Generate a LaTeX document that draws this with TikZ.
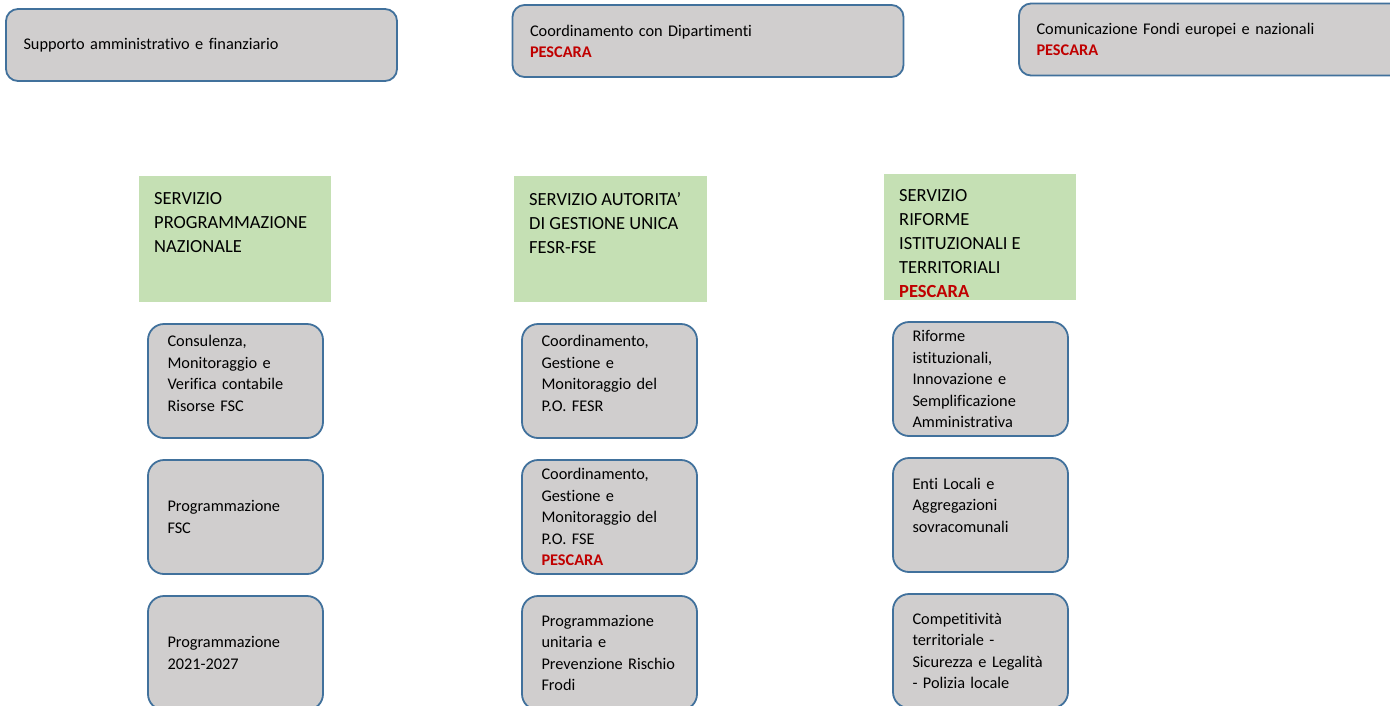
\documentclass[tikz,border=0pt]{standalone}
\usepackage{fontspec}
\setmainfont[RawFeature=-liga]{Carlito}
\definecolor{boxgray}{HTML}{D0CECE}
\definecolor{boxblue}{HTML}{41719C}
\definecolor{servgreen}{HTML}{C5E0B4}
\definecolor{pescred}{HTML}{C00000}
\newcommand{\pesc}{\textcolor{pescred}{\bfseries PESCARA}}
\tikzset{
  topbox/.style={draw=boxblue,line width=1.8pt,fill=boxgray,rounded corners=12pt,
    minimum width=391pt,minimum height=72pt,text width=356pt,inner xsep=17.5pt,
    align=left,font=\fontsize{16.3}{21}\selectfont},
  unitbox/.style={draw=boxblue,line width=1.8pt,fill=boxgray,rounded corners=16pt,
    minimum width=175pt,minimum height=114pt,text width=136pt,inner xsep=19.5pt,
    align=left,font=\fontsize{16.3}{21.5}\selectfont},
  servbox/.style={fill=servgreen,minimum width=192pt,minimum height=126pt,inner sep=0pt},
  servtext/.style={anchor=north west,align=left,inner sep=0pt,font=\fontsize{18.5}{24}\selectfont}
}
\begin{document}
\begin{tikzpicture}[x=1pt,y=-1pt]
  \useasboundingbox (0,0) rectangle (1390,705);
  \clip (0,0) rectangle (1390,705);
  \fill[white] (0,0) rectangle (1390,705);

  \node[topbox] (supp) at (201.5,45) {Supporto amministrativo e finanziario};
  \node[topbox] (coord) at (708,41) {Coordinamento con Dipartimenti\\\pesc};
  \node[topbox] (comun) at (1214.5,39.5) {Comunicazione Fondi europei e nazionali\\\pesc};

  \node[servbox] (snaz) at (235,239) {};
  \node[servbox,minimum width=193pt] (sadg) at (610.5,239) {};
  \node[servbox] (srif) at (980,237) {};
  \node[servtext] (snazt) at (154,192.5) {SERVIZIO\\PROGRAMMAZIONE\\NAZIONALE};
  \node[servtext] (sadgt) at (529,192.5) {SERVIZIO AUTORITA’\\DI GESTIONE UNICA\\FESR-FSE};
  \node[servtext] (srift) at (899,189.5) {SERVIZIO\\RIFORME\\ISTITUZIONALI E\\TERRITORIALI\\\pesc};

  \node[unitbox] (cons) at (235.5,381) {Consulenza,\\Monitoraggio e\\Verifica contabile\\Risorse FSC\\[-6.5pt]\mbox{}};
  \node[unitbox] (pfsc) at (235.5,517) {Programmazione\\FSC};
  \node[unitbox] (p2127) at (235.5,653) {Programmazione\\2021-2027};

  \node[unitbox] (fesr) at (609.5,381) {Coordinamento,\\Gestione e\\Monitoraggio del\\P.O. FESR\\[-6.5pt]\mbox{}};
  \node[unitbox] (fse) at (609.5,517) {Coordinamento,\\Gestione e\\Monitoraggio del\\P.O. FSE\\\pesc};
  \node[unitbox] (frodi) at (609.5,653) {Programmazione\\unitaria e\\Prevenzione Rischio\\Frodi};

  \node[unitbox] (rif) at (980.5,379) {Riforme\\istituzionali,\\Innovazione e\\Semplificazione\\Amministrativa};
  \node[unitbox] (enti) at (980.5,515) {Enti Locali e\\Aggregazioni\\sovracomunali\\[-1.5pt]\mbox{}};
  \node[unitbox] (comp) at (980.5,651) {Competitività\\territoriale -\\Sicurezza e Legalità\\- Polizia locale};
\end{tikzpicture}
\end{document}
